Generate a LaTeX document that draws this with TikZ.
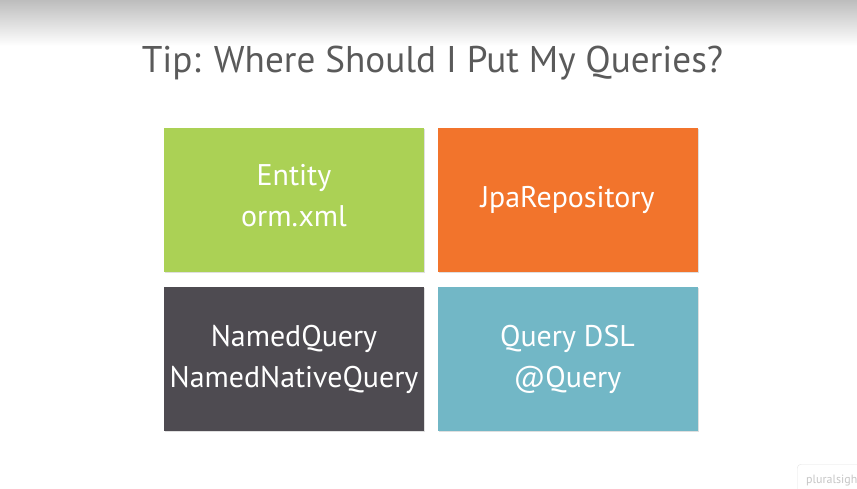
\documentclass[tikz,border=0pt]{standalone}
\usepackage{fontspec}
\setmainfont{PT Sans}
\usetikzlibrary{shadows}
\definecolor{titlegray}{HTML}{5A5A5A}
\definecolor{boxgreen}{HTML}{ABD155}
\definecolor{boxorange}{HTML}{F2742C}
\definecolor{boxdark}{HTML}{4E4B51}
\definecolor{boxteal}{HTML}{72B7C6}
\definecolor{topgray}{HTML}{BDBDBD}
\tikzset{
  tile/.style={minimum width=260bp, minimum height=144bp, inner sep=0pt,
    text=white, align=center, font=\fontsize{30}{41}\selectfont,
    drop shadow={shadow xshift=1bp, shadow yshift=-1bp, opacity=0.25}},
}
\begin{document}
\begin{tikzpicture}[x=1bp,y=-1bp]
  % canvas
  \fill[white] (0,0) rectangle (857,489);
  \useasboundingbox (0,0) rectangle (857,489);
  % soft grey band along the top
  \shade[top color=topgray, bottom color=white] (0,0) rectangle (857,46);
  % heading
  \node[text=titlegray, font=\fontsize{37.3}{44}\selectfont, anchor=base] (title)
    at (432.5,73) {Tip: Where Should I Put My Queries?};
  % four tiles
  \node[tile, fill=boxgreen]  (entity) at (294,200) {};
  \node[text=white, align=center, font=\fontsize{30}{41}\selectfont]
    (entitytext) at ([yshift=4bp]entity.center) {Entity\\orm.xml};
  \node[tile, fill=boxorange] (repo)   at (567.5,200) {JpaRepository};
  \node[tile, fill=boxdark]   (named)  at (294,359) {NamedQuery\\NamedNativeQuery};
  \node[tile, fill=boxteal]   (dsl)    at (567.5,359) {Query DSL\\@Query};
  % corner badge
  \node[draw=gray!20, rounded corners=4bp, fill=white, anchor=north west,
    minimum height=30bp, minimum width=80bp, text=gray!45,
    font=\fontsize{12}{14}\selectfont, text depth=0pt, inner xsep=9bp,
    align=left] (badge) at (797,464) {pluralsight\hspace*{30bp}};
\end{tikzpicture}
\end{document}
